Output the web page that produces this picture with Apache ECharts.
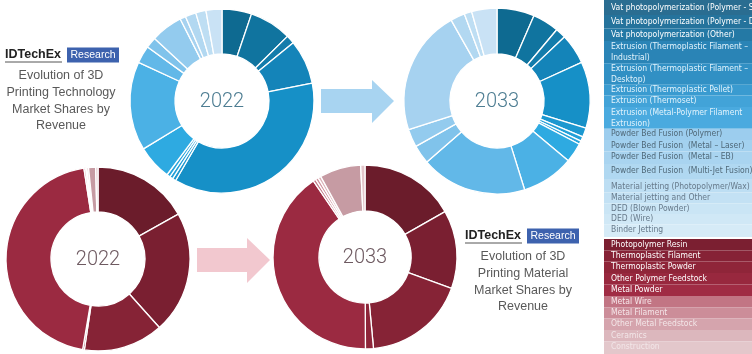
<!DOCTYPE html>
<html>
<head>
<meta charset="utf-8">
<title>Evolution of 3D Printing Market Shares</title>
<script src="https://cdn.jsdelivr.net/npm/echarts@6.0.0/dist/echarts.min.js"></script>
<style>
  html, body { margin: 0; padding: 0; background: #fff; }
  #chart-container { width: 752px; height: 354px; }
</style>
</head>
<body>
<div id="chart-container"></div>
<script>
// categories as they are written in the legend boxes (\n = wrapped line)
const techCategories = [
    'Vat photopolymerization (Polymer - SLA)',
    'Vat photopolymerization (Polymer - DLP)',
    'Vat photopolymerization (Other)',
    'Extrusion (Thermoplastic Filament –\nIndustrial)',
    'Extrusion (Thermoplastic Filament –\nDesktop)',
    'Extrusion (Thermoplastic Pellet)',
    'Extrusion (Thermoset)',
    'Extrusion (Metal-Polymer Filament\nExtrusion)',
    'Powder Bed Fusion (Polymer)',
    'Powder Bed Fusion  (Metal – Laser)',
    'Powder Bed Fusion  (Metal – EB)',
    'Powder Bed Fusion  (Multi-Jet Fusion)',
    'Material jetting (Photopolymer/Wax)',
    'Material jetting and Other',
    'DED (Blown Powder)',
    'DED (Wire)',
    'Binder Jetting'
];
// revenue share, %
const techShare2022 = [5.2, 7.4, 1.5, 7.8, 36.5, 0.6, 0.6, 0.6, 6.1, 15.6, 3.1, 1.9, 5.6, 1.0, 1.9, 1.8, 2.8];
const techShare2033 = [6.5, 4.6, 1.8, 5.3, 11.5, 1.6, 0.8, 0.6, 3.4, 9.1, 18.4, 3.3, 3.1, 21.8, 2.5, 1.3, 4.4];

const materialCategories = [
    'Photopolymer Resin',
    'Thermoplastic Filament',
    'Thermoplastic Powder',
    'Other Polymer Feedstock',
    'Metal Powder',
    'Metal Wire',
    'Metal Filament',
    'Other Metal Feedstock',
    'Ceramics',
    'Construction'
];
const materialShare2022 = [16.9, 21.5, 14.0, 0.3, 44.9, 0.3, 0.2, 0.3, 1.25, 0.4];
const materialShare2033 = [16.8, 13.75, 18.0, 1.4, 40.6, 0.5, 0.5, 0.5, 7.25, 0.75];

const years = ['2022', '2033'];
const techTitle = ['Evolution of 3D', 'Printing Technology', 'Market Shares by', 'Revenue'];
const materialTitle = ['Evolution of 3D', 'Printing Material', 'Market Shares by', 'Revenue'];

// colours
const techColors = ['#0e6a91', '#10749f', '#137cab', '#1484b9', '#1690c7', '#1c98d0', '#22a0d8', '#27a5dc',
    '#2eaae1', '#4bb1e5', '#62b8e8', '#80c3eb', '#93cbee', '#a6d2f0', '#b2d8f1', '#bedef3', '#c9e2f5'];
const materialColors = ['#6b1c2b', '#7a1f31', '#862336', '#8e2539', '#9b2a41', '#c47a88', '#d195a0',
    '#dcb3ba', '#c69ba3', '#e3c5ca'];
const techLegendBg = ['#2a6d91', '#25739c', '#2479a5', '#2a84b6', '#3190c4', '#3a9bd0', '#42a3d8', '#4aaadf',
    '#9ccdee', '#a3d1ef', '#a9d4f0', '#b0d8f1', '#bddef3', '#c3e1f4', '#cae5f5', '#d0e8f6', '#d6ebf7'];
const techLegendText = ['#ffffff', '#ffffff', '#ffffff', '#e2f3fc', '#e2f3fc', '#e2f3fc', '#e2f3fc', '#e2f3fc',
    '#4f6878', '#4f6878', '#4f6878', '#4f6878', '#66798a', '#66798a', '#66798a', '#66798a', '#66798a'];
const materialLegendBg = ['#7b1f31', '#862236', '#8f2539', '#98283e', '#a02c44', '#c27584', '#cc8d99',
    '#d5a4ad', '#dcb7bd', '#e3c7cb'];
const materialLegendText = ['#ffffff', '#ffffff', '#ffffff', '#ffffff', '#ffffff', '#f7e8eb', '#f5e6e9',
    '#f3e6e8', '#f2e6e8', '#f2e6e8'];

// layout (pixels)
const techRowY = [8, 22, 35, 47, 69, 90, 101, 113, 134, 146, 157, 171, 187, 198, 209, 219, 230];
const materialRowY = [245, 256, 267, 279, 290, 302, 313, 324, 336, 347];
const LINE_H = 10.5;
const LEGEND_X = 604;
const FONT = '"Liberation Sans", Arial, sans-serif';
const NARROW = '"Liberation Sans Narrow", "DejaVu Sans Condensed", "Liberation Sans", sans-serif';

function donut(center, radius, values, names, colors) {
    return {
        type: 'pie',
        center: center,
        radius: radius,
        startAngle: 90,
        clockwise: true,
        silent: true,
        avoidLabelOverlap: false,
        label: { show: false },
        labelLine: { show: false },
        itemStyle: { borderColor: '#ffffff', borderWidth: 1.3 },
        data: values.map((v, i) => ({
            name: names[i].replace('\n', ' '),
            value: v,
            itemStyle: { color: colors[i] }
        }))
    };
}

const donuts = [
    { center: [222, 101], radius: [47, 92], values: techShare2022, names: techCategories, colors: techColors, year: years[0], yearColor: '#4d7d92' },
    { center: [497, 101], radius: [47, 93], values: techShare2033, names: techCategories, colors: techColors, year: years[1], yearColor: '#4d7d92' },
    { center: [98, 259], radius: [47, 92], values: materialShare2022, names: materialCategories, colors: materialColors, year: years[0], yearColor: '#6e5a61' },
    { center: [365, 257], radius: [46, 92], values: materialShare2033, names: materialCategories, colors: materialColors, year: years[1], yearColor: '#6e5a61' }
];

const graphics = [];

// arrows between the years
graphics.push({
    type: 'polygon',
    shape: { points: [[321, 89], [372, 89], [372, 80], [394, 101], [372, 123], [372, 113], [321, 113]] },
    style: { fill: '#a8d4f1' }
});
graphics.push({
    type: 'polygon',
    shape: { points: [[197, 248], [247, 248], [247, 238], [270, 260], [247, 283], [247, 272], [197, 272]] },
    style: { fill: '#f2c8cf' }
});

// year in the middle of each donut
donuts.forEach(function (d) {
    graphics.push({
        type: 'text',
        x: d.center[0],
        y: d.center[1] + 1,
        style: {
            text: d.year,
            fill: d.yearColor,
            font: '300 20px Roboto, ' + FONT,
            align: 'center',
            verticalAlign: 'middle'
        }
    });
});

// IDTechEx logo + caption block
function captionBlock(logoX, logoY, centerX, firstLineY, lines) {
    graphics.push({
        type: 'text', x: logoX, y: logoY,
        style: { text: 'IDTechEx', fill: '#222222', font: 'bold 12.5px ' + FONT, align: 'left', verticalAlign: 'middle' }
    });
    graphics.push({
        type: 'line',
        shape: { x1: logoX, y1: logoY + 7, x2: logoX + 57, y2: logoY + 7 },
        style: { stroke: '#555555', lineWidth: 1 }
    });
    graphics.push({
        type: 'rect',
        shape: { x: logoX + 62, y: logoY - 7.5, width: 52, height: 15 },
        style: { fill: '#3d62ae' }
    });
    graphics.push({
        type: 'text', x: logoX + 88, y: logoY,
        style: { text: 'Research', fill: '#ffffff', font: '10.5px ' + FONT, align: 'center', verticalAlign: 'middle' }
    });
    lines.forEach(function (line, i) {
        graphics.push({
            type: 'text', x: centerX, y: firstLineY + i * 16.6,
            style: { text: line, fill: '#595959', font: '12.5px ' + FONT, align: 'center', verticalAlign: 'middle' }
        });
    });
}
captionBlock(5, 55, 61, 76, techTitle);
captionBlock(465, 236, 523, 257, materialTitle);

// legend boxes on the right
function legendBox(names, rowY, bg, textColors, top, bottom) {
    names.forEach(function (name, i) {
        const nLines = name.split('\n').length;
        const lastLineY = rowY[i] + (nLines - 1) * LINE_H;
        const y0 = i === 0 ? top : (rowY[i] + (rowY[i - 1] + (names[i - 1].split('\n').length - 1) * LINE_H)) / 2;
        const y1 = i === names.length - 1 ? bottom : (lastLineY + rowY[i + 1]) / 2;
        graphics.push({
            type: 'rect',
            shape: { x: LEGEND_X, y: y0, width: 752 - LEGEND_X, height: y1 - y0 },
            style: { fill: bg[i] }
        });
        graphics.push({
            type: 'text', x: LEGEND_X + 7, y: rowY[i] - LINE_H / 2,
            style: {
                text: name, fill: textColors[i], font: '8.5px ' + NARROW,
                lineHeight: LINE_H, align: 'left', verticalAlign: 'top'
            }
        });
    });
}
legendBox(techCategories, techRowY, techLegendBg, techLegendText, 0, 237);
legendBox(materialCategories, materialRowY, materialLegendBg, materialLegendText, 239, 354);

const chart = echarts.init(document.getElementById('chart-container'));
chart.setOption({
    animation: false,
    backgroundColor: '#ffffff',
    series: donuts.map(d => donut(d.center, d.radius, d.values, d.names, d.colors)),
    graphic: graphics
});
</script>
</body>
</html>
